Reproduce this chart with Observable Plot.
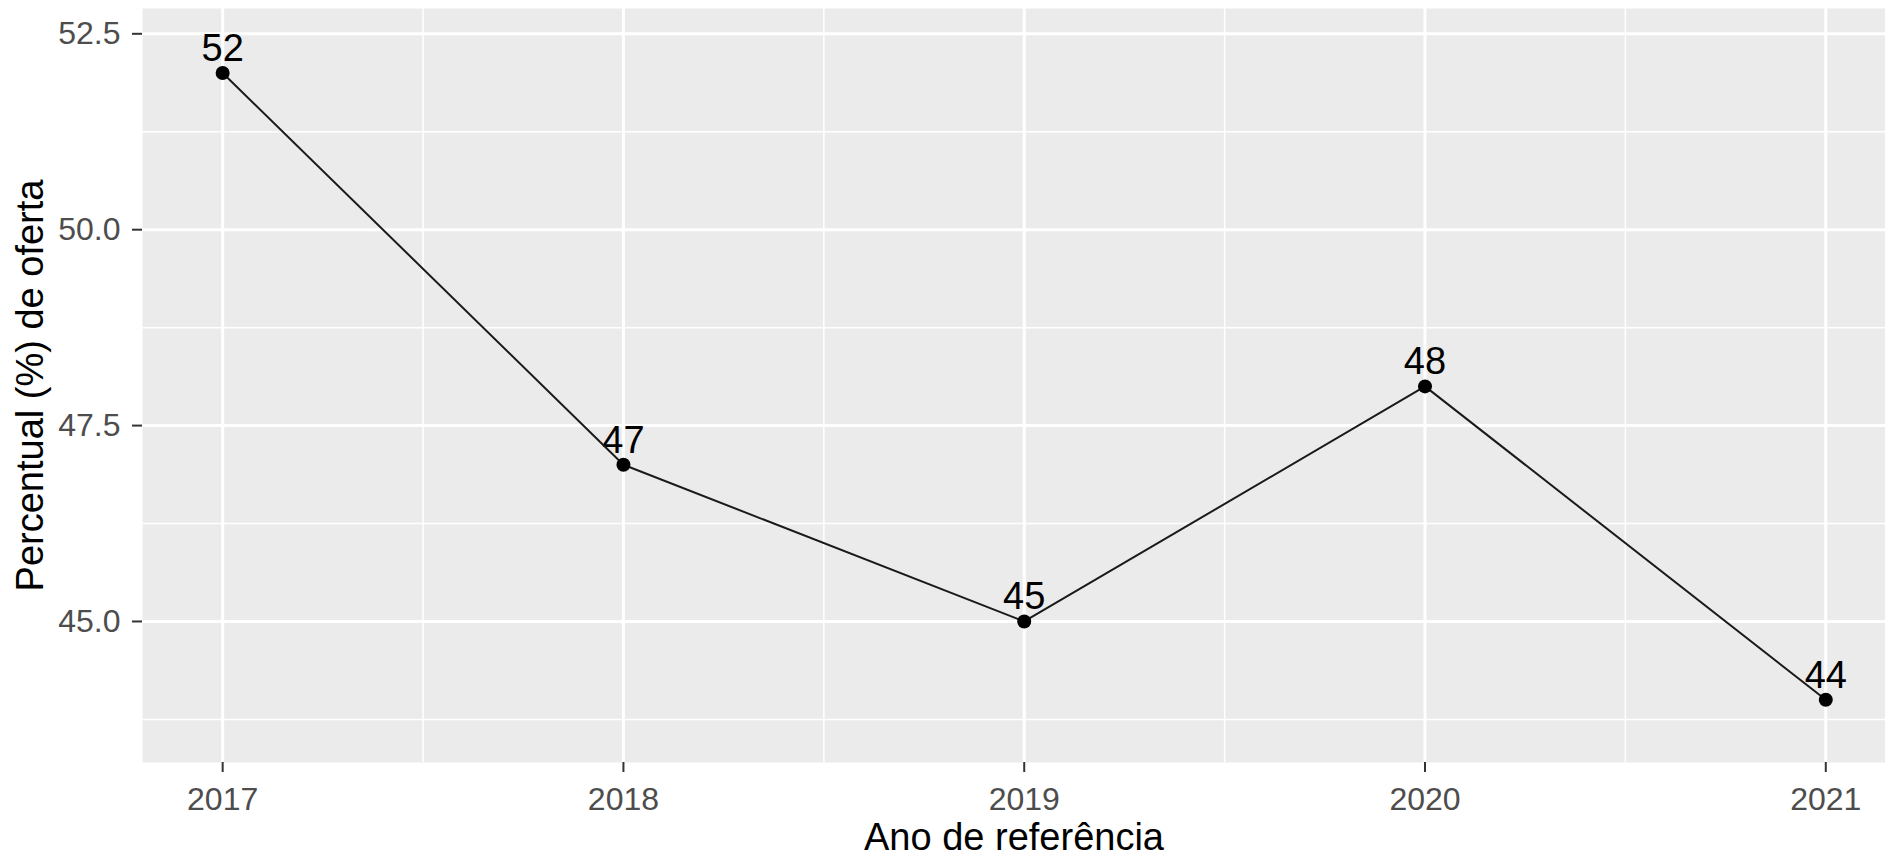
<!DOCTYPE html>
<html><head><meta charset="utf-8">
<script src="https://cdn.jsdelivr.net/npm/d3@7"></script>
<script src="https://cdn.jsdelivr.net/npm/@observablehq/plot@0.6"></script>
<style>html,body{margin:0;padding:0;background:#fff} svg{display:block}</style>
</head><body><div id="chart"></div>
<script>
const years = [2017, 2018, 2019, 2020, 2021];
const values = [52, 47, 45, 48, 44];
const yTicks = [45, 47.5, 50, 52.5];
const yMinor = [43.75, 46.25, 48.75, 51.25];
const xTicks = [2017, 2018, 2019, 2020, 2021];
const xMinor = [2017.5, 2018.5, 2019.5, 2020.5];
const xTitle = "Ano de referência";
const yTitle = "Percentual (%) de oferta";

const data = years.map((year, i) => ({year, value: values[i]}));

const chart = Plot.plot({
  width: 1885,
  height: 856,
  marginTop: 8,
  marginBottom: 94,
  marginLeft: 142,
  marginRight: 0,
  style: {fontFamily: "'Liberation Sans', Arial, sans-serif", background: "#fff"},
  x: {domain: [2016.8, 2021.149]},
  y: {domain: [43.2, 52.823]},
  marks: [
    Plot.frame({fill: "#EBEBEB", stroke: null}),
    Plot.ruleY(yMinor, {stroke: "#fff", strokeWidth: 1.5}),
    Plot.ruleX(xMinor, {stroke: "#fff", strokeWidth: 1.5}),
    Plot.ruleY(yTicks, {stroke: "#fff", strokeWidth: 3}),
    Plot.ruleX(xTicks, {stroke: "#fff", strokeWidth: 3}),
    Plot.axisX({ticks: xTicks, tickFormat: "d", tickSize: 10, tickPadding: 15, fontSize: 32, fill: "#4D4D4D", stroke: "#333", strokeWidth: 2, label: null}),
    Plot.axisY({ticks: yTicks, tickFormat: d3.format(".1f"), tickSize: 10, tickPadding: 12, fontSize: 32, fill: "#4D4D4D", stroke: "#333", strokeWidth: 2, label: null}),
    Plot.text([xTitle], {frameAnchor: "bottom", textAnchor: "middle", lineAnchor: "bottom", dy: 87, fontSize: 38, fill: "#000"}),
    Plot.text([yTitle], {frameAnchor: "left", textAnchor: "middle", lineAnchor: "bottom", rotate: -90, dx: -100, fontSize: 38, fill: "#000"}),
    Plot.text(data, {x: "year", y: "value", text: d => String(d.value), lineAnchor: "bottom", dy: -12, fontSize: 38, fill: "#000"}),
    Plot.line(data, {x: "year", y: "value", stroke: "#1a1a1a", strokeWidth: 2}),
    Plot.dot(data, {x: "year", y: "value", r: 7, fill: "#000"})
  ]
});
document.getElementById("chart").append(chart);
</script>
</body></html>
